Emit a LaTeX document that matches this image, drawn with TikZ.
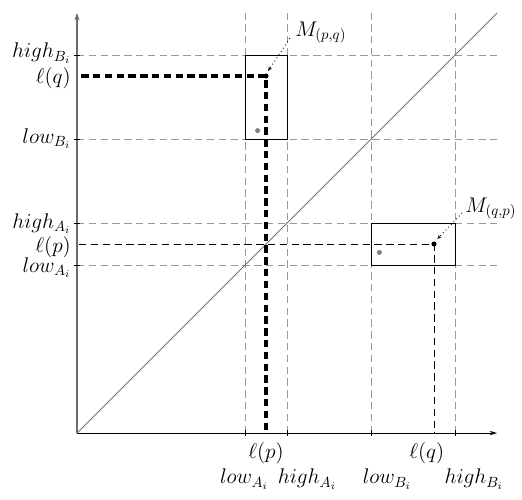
\documentclass[tikz,border=0pt]{standalone}
\usetikzlibrary{arrows.meta}
\begin{document}
\begin{tikzpicture}[x=1cm,y=1cm,
  lbl/.style={inner sep=0pt,font=\fontsize{14}{17}\selectfont},
  grid/.style={gray!80,line width=0.5pt,dash pattern=on 5pt off 3pt},
  thickdash/.style={line width=2.1pt,dash pattern=on 5pt off 3pt},
  thindash/.style={line width=0.6pt,dash pattern=on 5pt off 3pt},
  dotline/.style={dotted,line width=0.6pt,-{Stealth[length=3pt,width=2.5pt]}},
  tick/.style={line width=0.6pt}]
\useasboundingbox (-1.833,-1.571) rectangle (10.595,10.31);
% named coordinates
\coordinate (O) at (0,0);
\coordinate (X) at (10,0);
\coordinate (Y) at (0,10);
\coordinate (D) at (10,10);
% grid lines
\foreach \v in {4,5,7,9}{
  \draw[grid] (\v,0) -- (\v,10);
  \draw[grid] (0,\v) -- (10,\v);
}
% diagonal
\draw[gray!70!black,line width=0.5pt] (O) -- (D);
% boxes
\draw[line width=0.6pt] (4,7) rectangle (5,9);
\draw[line width=0.6pt] (7,4) rectangle (9,5);
% dashed projections
\coordinate (Mpq) at (4.5,8.5);
\coordinate (Mqp) at (8.5,4.5);
\coordinate (yq) at (0.1,8.5);
\coordinate (xp) at (4.5,0);
\coordinate (yp) at (0.05,4.5);
\coordinate (xq) at (8.5,0);
\draw[thickdash] (yq) -- (Mpq) -- (xp);
\draw[thindash] (yp) -- (Mqp) -- (xq);
% axes
\draw[line width=0.6pt,-{Stealth[length=5pt,width=3pt]}] (O) -- (X);
\draw[gray!85!black,line width=1.3pt,-{Stealth[length=5pt,width=3.5pt]}] (O) -- (Y);
% ticks
\foreach \v in {4,5,7,9}{
  \draw[tick] (\v,-0.07) -- (\v,0.07);
  \draw[tick] (-0.07,\v) -- (0.07,\v);
}
% dots
\fill (Mpq) circle (0.06);
\fill (Mqp) circle (0.06);
\fill[gray] (4.3,7.2) circle (0.06);
\fill[gray] (7.2,4.3) circle (0.06);
% left labels
\node[lbl,anchor=base east] (lhB) at (-0.14,8.93) {$high_{B_i}$};
\node[lbl,anchor=base east] (llq) at (-0.14,8.33) {$\ell(q)$};
\node[lbl,anchor=base east] (llB) at (-0.14,6.90) {$low_{B_i}$};
\node[lbl,anchor=base east] (lhA) at (-0.14,4.88) {$high_{A_i}$};
\node[lbl,anchor=base east] (llp) at (-0.14,4.29) {$\ell(p)$};
\node[lbl,anchor=base east] (llA) at (-0.14,3.83) {$low_{A_i}$};
% bottom labels
\node[lbl,anchor=base] (blp) at (4.5,-0.595) {$\ell(p)$};
\node[lbl,anchor=base] (blq) at (8.33,-0.595) {$\ell(q)$};
\node[lbl,anchor=base] (blA) at (3.98,-1.21) {$low_{A_i}$};
\node[lbl,anchor=base] (bhA) at (5.48,-1.21) {$high_{A_i}$};
\node[lbl,anchor=base] (blB) at (7.38,-1.21) {$low_{B_i}$};
\node[lbl,anchor=base] (bhB) at (9.45,-1.21) {$high_{B_i}$};
% M labels
\node[lbl,anchor=base west] (mpq) at (5.19,9.45) {$M_{(p,q)}$};
\node[lbl,anchor=base west] (mqp) at (9.24,5.26) {$M_{(q,p)}$};
\coordinate (apq) at (5.07,9.40);
\coordinate (epq) at (4.55,8.62);
\coordinate (aqp) at (9.17,5.24);
\coordinate (eqp) at (8.58,4.62);
\draw[dotline] (apq) -- (epq);
\draw[dotline] (aqp) -- (eqp);
\end{tikzpicture}
\end{document}
